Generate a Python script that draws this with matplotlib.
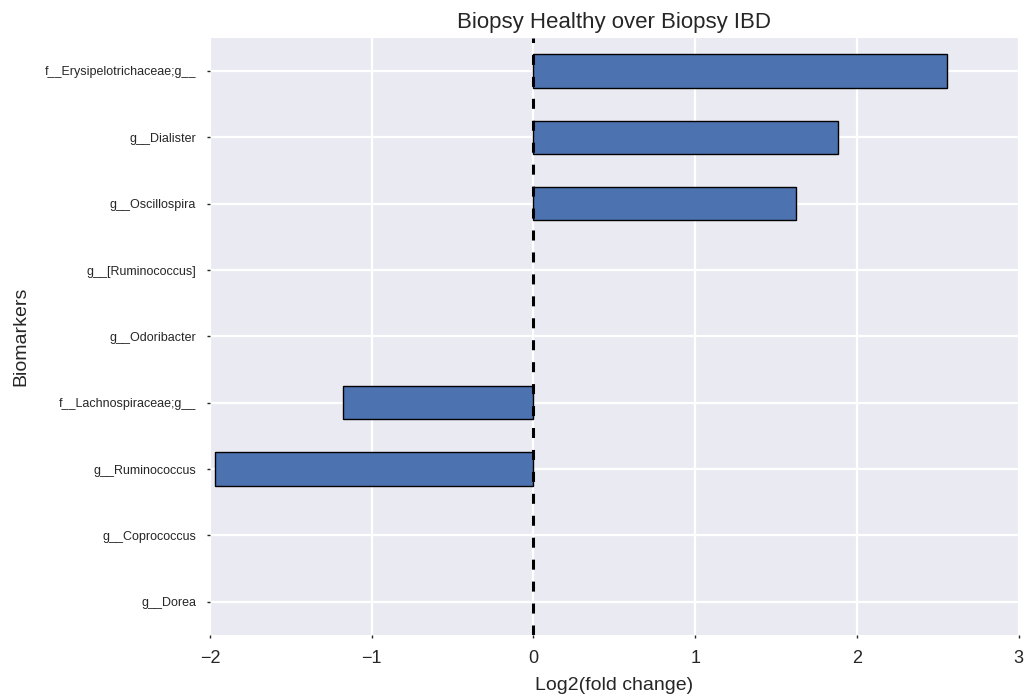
import matplotlib
matplotlib.use("Agg")
import matplotlib.pyplot as plt
import numpy as np

biomarkers = [
    "f__Erysipelotrichaceae;g__",
    "g__Dialister",
    "g__Oscillospira",
    "g__[Ruminococcus]",
    "g__Odoribacter",
    "f__Lachnospiraceae;g__",
    "g__Ruminococcus",
    "g__Coprococcus",
    "g__Dorea",
]
log2_fold_change = [2.555, 1.881, 1.622, 0.0, 0.0, -1.178, -1.969, 0.0, 0.0]
x_ticks = [-2, -1, 0, 1, 2, 3]

plt.rcParams["font.family"] = ["Liberation Sans", "DejaVu Sans"]
plt.rcParams["lines.scale_dashes"] = False

fig = plt.figure(figsize=(10.29, 7.0), dpi=100)
ax = fig.add_axes([0.204, 0.093, 0.786, 0.853])
ax.set_facecolor("#EAEAF2")
for s in ax.spines.values():
    s.set_visible(False)

# categories run top to bottom; empty bars get no outline
pos = np.arange(len(biomarkers))[::-1]
edge_widths = [1.0 if v != 0 else 0.0 for v in log2_fold_change]
ax.barh(pos, log2_fold_change, height=0.5, color="#4C72B0",
        edgecolor="black", linewidth=edge_widths, zorder=3)

ax.axvline(0, color="black", linewidth=2.2, dashes=(7.2, 8.6), zorder=4)

ax.set_ylim(-0.5, len(biomarkers) - 0.5)
ax.set_xlim(-2, 3)
ax.set_yticks(pos)
ax.set_yticklabels(biomarkers, fontsize=9, color="#262626")
ax.set_xticks(x_ticks)
ax.set_xticklabels([f"{t}".replace("-", "\u2212") for t in x_ticks],
                   fontsize=13, color="#262626")

ax.grid(True, color="white", linewidth=1.6, zorder=0)
ax.set_axisbelow(True)
ax.tick_params(axis="y", direction="out", length=2, width=1,
               color="#262626", pad=8)
ax.tick_params(axis="x", direction="out", length=2, width=1,
               color="#262626", pad=9)

ax.set_xlabel("Log2(fold change)", fontsize=14, color="#262626", labelpad=7)
ax.set_ylabel("Biomarkers", fontsize=14, color="#262626", labelpad=11)
ax.set_title("Biopsy Healthy over Biopsy IBD", fontsize=16, color="#262626", pad=7)

fig.savefig("out.png", dpi=100, facecolor="white")
